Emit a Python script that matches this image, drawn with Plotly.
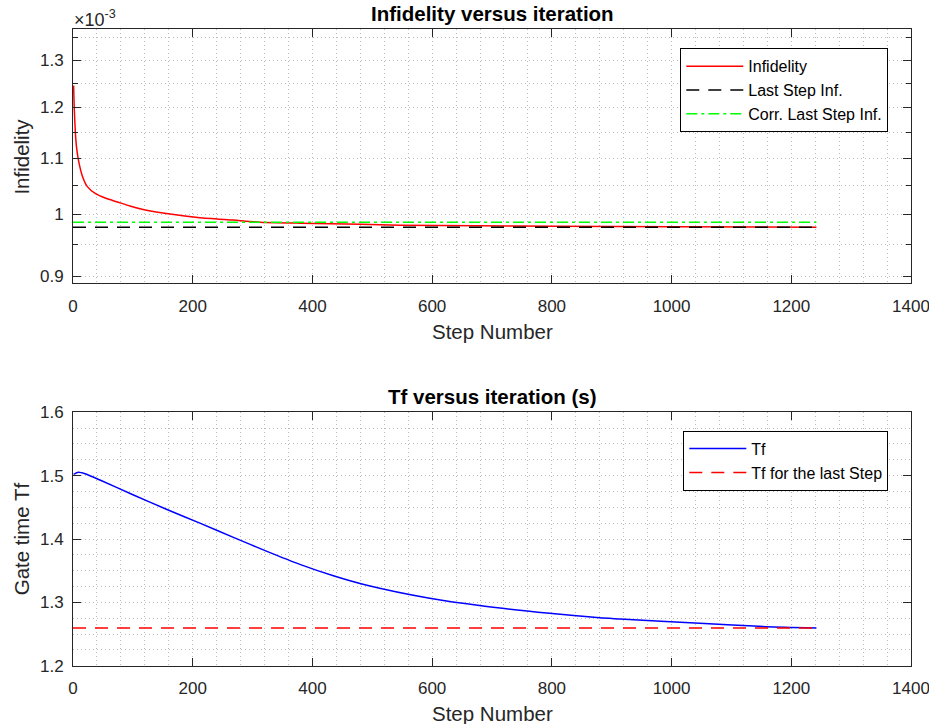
import math
import plotly.graph_objects as go

# ---------------- data ----------------
steps_inf = [1, 2, 4, 6, 9, 16, 24, 37, 56, 73, 95, 117, 156, 212, 268, 312,
             380, 480, 546, 675, 800, 1000, 1242]
infidelity_e3 = [1.245, 1.200, 1.148, 1.120, 1.097, 1.066, 1.048, 1.036, 1.027,
                 1.0215, 1.014, 1.008, 1.001, 0.994, 0.990, 0.9865, 0.9848,
                 0.983, 0.9815, 0.9805, 0.9798, 0.9788, 0.9779]
last_step_inf_e3 = 0.9779
corr_last_step_inf_e3 = 0.9863

steps_tf = [1, 9, 20, 45, 101, 156, 212, 268, 324, 379, 435, 491, 596,
            685, 796, 880, 914, 1047, 1158, 1242]
tf_vals = [1.502, 1.5053, 1.503, 1.4931, 1.4695, 1.4469, 1.4250, 1.4025, 1.3805,
           1.3600, 1.3420, 1.3270, 1.3064, 1.2942, 1.2827, 1.2755,
           1.2737, 1.2669, 1.2616, 1.2597]
tf_last = 1.2597
last_step = 1242

x_ticks = [0, 200, 400, 600, 800, 1000, 1200, 1400]
inf_tick_e3 = [0.9, 1.0, 1.1, 1.2, 1.3]
inf_tick_text = ["0.9", "1", "1.1", "1.2", "1.3"]
inf_minor_e3 = [0.95, 1.05, 1.15, 1.25, 1.35]
tf_ticks = [1.2, 1.3, 1.4, 1.5, 1.6]

# ---------------- style ----------------
W, H = 929, 724
FONT = "Liberation Sans, Arial, Helvetica, sans-serif"
AX = "#262626"
GRID = "#bdbdbd"
GDASH = "1px,3px"
X0, X1 = 73, 911
T_TOP, T_BOT = 29.3, 283.3
B_TOP, B_BOT = 412.3, 665.7


def px_x(p):
    return p / W


def px_y(p):
    return 1 - p / H


scale = 1e-3
inf = [v * scale for v in infidelity_e3]

fig = go.Figure()

fig.add_trace(go.Scatter(x=steps_inf, y=inf, mode="lines", name="Infidelity",
                         line=dict(color="#ff0000", width=1.5, shape="spline", smoothing=0.5),
                         xaxis="x", yaxis="y", legend="legend"))
fig.add_trace(go.Scatter(x=[0, last_step], y=[last_step_inf_e3 * scale] * 2, mode="lines",
                         name="Last Step Inf.",
                         line=dict(color="#000000", width=1.5, dash="13px,9px"),
                         xaxis="x", yaxis="y", legend="legend"))
fig.add_trace(go.Scatter(x=[0, last_step], y=[corr_last_step_inf_e3 * scale] * 2, mode="lines",
                         name="Corr. Last Step Inf.",
                         line=dict(color="#00ff00", width=1.5, dash="11px,4px,3px,4px"),
                         xaxis="x", yaxis="y", legend="legend"))

fig.add_trace(go.Scatter(x=steps_tf, y=tf_vals, mode="lines", name="Tf",
                         line=dict(color="#0000ff", width=1.5, shape="spline", smoothing=0.6),
                         xaxis="x2", yaxis="y2", legend="legend2"))
fig.add_trace(go.Scatter(x=[0, last_step], y=[tf_last, tf_last], mode="lines",
                         name="Tf for the last Step",
                         line=dict(color="#ff0000", width=1.5, dash="13px,9px"),
                         xaxis="x2", yaxis="y2", legend="legend2"))

common_axis = dict(
    showline=True, linecolor=AX, linewidth=1, mirror="ticks",
    ticks="inside", ticklen=8, tickcolor=AX, tickwidth=1,
    tickfont=dict(family=FONT, size=17, color=AX),
    showgrid=True, gridcolor=GRID, griddash=GDASH, gridwidth=1,
    zeroline=False, ticklabeloverflow="allow",
)

xdom = [px_x(X0), px_x(X1)]

xa = dict(common_axis, domain=xdom, range=[0, 1400], tickvals=x_ticks,
          minor=dict(dtick=40, tick0=0, showgrid=True, gridcolor=GRID, griddash=GDASH, ticks=""),
          ticklabelstandoff=7)

legend_common = dict(xanchor="right", yanchor="top", bgcolor="white",
                     bordercolor="#000000", borderwidth=1, itemwidth=57,
                     font=dict(family=FONT, size=16, color="#000000"))

fig.update_layout(
    width=W, height=H,
    margin=dict(l=0, r=0, t=0, b=0, autoexpand=False),
    paper_bgcolor="white", plot_bgcolor="white",
    font=dict(family=FONT, color=AX),
    xaxis=dict(xa, anchor="y"),
    yaxis=dict(common_axis, domain=[px_y(T_BOT), px_y(T_TOP)], anchor="x", type="log",
               range=[math.log10(0.889e-3), math.log10(1.37e-3)],
               tickvals=[v * scale for v in inf_tick_e3], ticktext=inf_tick_text,
               ticklabelstandoff=5,
               minor=dict(tickvals=[v * scale for v in inf_minor_e3], ticks="inside", ticklen=5,
                          tickcolor=AX, showgrid=True, gridcolor=GRID, griddash=GDASH)),
    xaxis2=dict(xa, anchor="y2"),
    yaxis2=dict(common_axis, domain=[px_y(B_BOT), px_y(B_TOP)], anchor="x2",
                range=[1.2, 1.6], tickvals=tf_ticks, tickformat=".1f",
                ticklabelstandoff=5,
                minor=dict(dtick=0.025, tick0=1.2, ticks="", showgrid=True,
                           gridcolor=GRID, griddash=GDASH)),
    legend=dict(legend_common, x=px_x(888.3), y=px_y(48.3)),
    legend2=dict(legend_common, x=px_x(888.3), y=px_y(430.7)),
    showlegend=True,
)

ann = []
ann.append(dict(text="<b>Infidelity versus iteration</b>", x=(px_x(X0) + px_x(X1)) / 2, y=px_y(13),
                xref="paper", yref="paper", xanchor="center", yanchor="middle", showarrow=False,
                font=dict(family=FONT, size=20.5, color="#000000")))
ann.append(dict(text="<b>Tf versus iteration (s)</b>", x=(px_x(X0) + px_x(X1)) / 2, y=px_y(396),
                xref="paper", yref="paper", xanchor="center", yanchor="middle", showarrow=False,
                font=dict(family=FONT, size=20.5, color="#000000")))
ann.append(dict(text="Step Number", x=(px_x(X0) + px_x(X1)) / 2, y=px_y(331),
                xref="paper", yref="paper", xanchor="center", yanchor="middle", showarrow=False,
                font=dict(family=FONT, size=20.5, color=AX)))
ann.append(dict(text="Step Number", x=(px_x(X0) + px_x(X1)) / 2, y=px_y(713),
                xref="paper", yref="paper", xanchor="center", yanchor="middle", showarrow=False,
                font=dict(family=FONT, size=20.5, color=AX)))
ann.append(dict(text="Infidelity", x=px_x(21.3), y=px_y((T_TOP + T_BOT) / 2), textangle=-90,
                xref="paper", yref="paper", xanchor="center", yanchor="middle", showarrow=False,
                font=dict(family=FONT, size=20.5, color=AX)))
ann.append(dict(text="Gate time Tf", x=px_x(21.3), y=px_y((B_TOP + B_BOT) / 2), textangle=-90,
                xref="paper", yref="paper", xanchor="center", yanchor="middle", showarrow=False,
                font=dict(family=FONT, size=20.5, color=AX)))
ann.append(dict(text="×10<sup>-3</sup>", x=px_x(72), y=px_y(32), xref="paper", yref="paper",
                xanchor="left", yanchor="bottom", showarrow=False,
                font=dict(family=FONT, size=18, color=AX)))
fig.update_layout(annotations=ann)

fig.write_html("out.html")
